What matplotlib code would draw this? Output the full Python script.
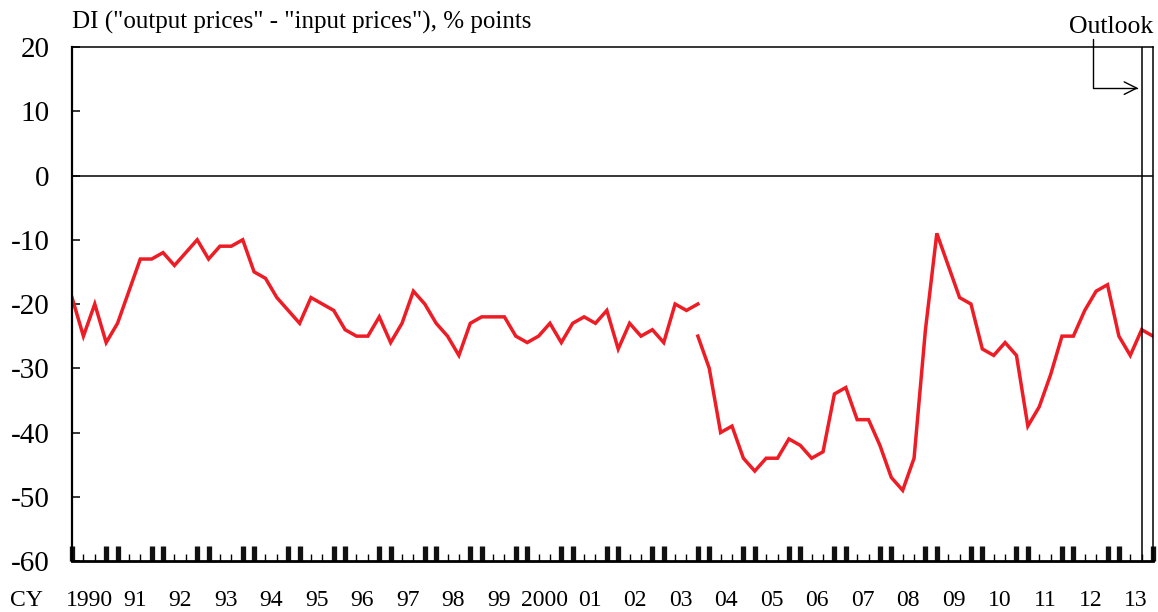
import matplotlib
matplotlib.use("Agg")
import matplotlib.pyplot as plt
import numpy as np

plt.rcParams['font.family'] = ['Liberation Serif', 'DejaVu Serif']

# quarterly DI, 1990 Q1 .. 2003 Q4 (old basis)
di_old = [-19, -25, -20, -26, -23, -18, -13, -13, -12, -14, -12, -10,
          -13, -11, -11, -10, -15, -16, -19, -21, -23, -19, -20, -21,
          -24, -25, -25, -22, -26, -23, -18, -20, -23, -25, -28, -23,
          -22, -22, -22, -25, -26, -25, -23, -26, -23, -22, -23, -21,
          -27, -23, -25, -24, -26, -20, -21, -20]
# 2003 Q4 .. 2013 Q4 (new basis, last point = outlook)
di_new = [-25, -30, -40, -39, -44, -46, -44, -44, -41, -42, -44, -43,
          -34, -33, -38, -38, -42, -47, -49, -44, -24, -9, -14, -19,
          -20, -27, -28, -26, -28, -39, -36, -31, -25, -25, -21, -18,
          -17, -25, -28, -24, -25]
years = ["1990", "91", "92", "93", "94", "95", "96", "97", "98", "99", "2000",
         "01", "02", "03", "04", "05", "06", "07", "08", "09", "10", "11", "12", "13"]
y_ticks = [20, 10, 0, -10, -20, -30, -40, -50, -60]

n_q = len(years) * 4
x_old = np.arange(len(di_old))
x_new = np.arange(n_q - len(di_new), n_q)
outlook_start = n_q - 2

fig = plt.figure(figsize=(11.58, 6.12), dpi=100)
ax = fig.add_axes([0.0622, 0.0833, 0.9335, 0.8399])

red = "#ee1c25"
ax.plot(x_old, di_old, color=red, lw=2.5, solid_joinstyle="miter")
ax.plot(x_new, di_new, color=red, lw=2.5, solid_joinstyle="miter")

ax.axhline(0, color="black", lw=1.1)
ax.axvline(outlook_start, color="black", lw=1.1)

ax.set_xlim(0, n_q - 1)
ax.set_ylim(-60, 20)
ax.set_yticks(y_ticks)
ax.set_yticklabels([str(v) for v in y_ticks], fontsize=21)
ax.tick_params(axis="y", direction="in", length=6, width=1.1, pad=16)

q = np.arange(n_q)
ax.set_xticks(q[(q % 4 == 0) | (q % 4 == 3)])
ax.set_xticks(q[(q % 4 == 1) | (q % 4 == 2)], minor=True)
ax.set_xticklabels([])
ax.tick_params(axis="x", which="major", direction="in", length=11, width=3.8, color="#111111")
ax.tick_params(axis="x", which="minor", direction="in", length=5, width=1.0)

for k, lab in enumerate(years):
    ax.text(4 * k + 1.5, -0.076, lab, transform=ax.get_xaxis_transform(),
            ha="center", va="center", fontsize=17)
fig.text(0.023, 0.0196, "CY", ha="center", va="center", fontsize=17)

for side in ["top", "right"]:
    ax.spines[side].set_linewidth(1.1)
ax.spines["left"].set_linewidth(1.6)
ax.spines["bottom"].set_linewidth(2.0)

fig.text(0.0622, 0.963, 'DI ("output prices" - "input prices"), % points',
         ha="left", va="center", fontsize=18)

ax.text(n_q - 1, 23.1, "Outlook", ha="right", va="center", fontsize=18.5)
ax.annotate("", xy=(outlook_start - 0.3, 13.6), xytext=(89.7, 21.2),
            arrowprops=dict(arrowstyle="->,head_length=0.9,head_width=0.45", lw=1.0,
                            connectionstyle="angle,angleA=-90,angleB=0,rad=0",
                            shrinkA=0, shrinkB=0),
            annotation_clip=False)

fig.savefig("out.png", dpi=100)
